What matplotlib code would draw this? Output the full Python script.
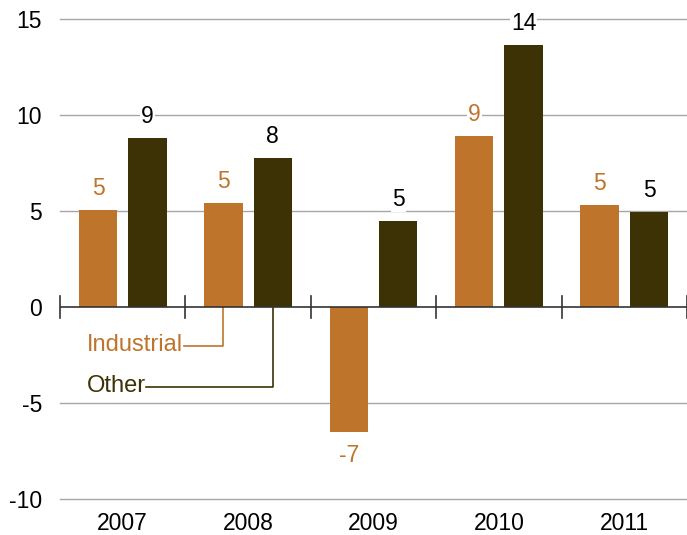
import matplotlib
matplotlib.use("Agg")
import matplotlib.pyplot as plt
import numpy as np

years = ["2007", "2008", "2009", "2010", "2011"]
industrial = [5.05, 5.4, -6.5, 8.9, 5.3]
other = [8.8, 7.75, 4.48, 13.65, 4.95]
industrial_labels = ["5", "5", "-7", "9", "5"]
other_labels = ["9", "8", "5", "14", "5"]
yticks = [-10, -5, 0, 5, 10, 15]

C_IND = "#BF742C"
C_OTH = "#3D3206"

plt.rcParams['font.family'] = ['Liberation Sans', 'DejaVu Sans']
fig = plt.figure(figsize=(6.87, 5.35), dpi=100)
ax = fig.add_axes([60/687, 36/535, 627/687, 480/535])
ax.set_xlim(0, 5)
ax.set_ylim(-10, 15)

x = np.arange(len(years)) + 0.5
off = 0.197
w = 0.305
ax.bar(x - off, industrial, w, color=C_IND, zorder=3)
ax.bar(x + off, other, w, color=C_OTH, zorder=3)

for yv in yticks:
    if yv != 0:
        ax.axhline(yv, color="#A6A6A6", lw=1.0, zorder=1, clip_on=False)
ax.axhline(0, color="#333333", lw=1.2, zorder=4)
for i in range(len(years) + 1):
    ax.plot([i, i], [-0.55, 0.55], color="#333333", lw=1.2, zorder=4, clip_on=False)

FS = 16.5
box = dict(boxstyle='square,pad=0.05', fc='white', ec='none')
for xi, v, lab in zip(x - off, industrial, industrial_labels):
    va = 'bottom' if v >= 0 else 'top'
    dy = 7.5 if v >= 0 else -9
    ax.annotate(lab, (xi, v), xytext=(0, dy), textcoords='offset points',
                ha='center', va=va, fontsize=FS, color=C_IND, bbox=box, zorder=5)
for xi, v, lab in zip(x + off, other, other_labels):
    ax.annotate(lab, (xi, v), xytext=(0, 7.5), textcoords='offset points',
                ha='center', va='bottom', fontsize=FS, color='black', bbox=box, zorder=5)

for s in ax.spines.values():
    s.set_visible(False)
ax.set_yticks(yticks)
ax.set_yticklabels([str(t) for t in yticks], fontsize=FS)
ax.tick_params(axis='y', length=0, pad=13)
ax.set_xticks(x)
ax.set_xticklabels(years, fontsize=FS)
ax.tick_params(axis='x', length=0, pad=9.5)

# legend callouts
lx_ind = x[1] - off
lx_oth = x[1] + off
ax.text(0.215, -2.0, "Industrial", color=C_IND, fontsize=17, ha='left', va='center')
ax.plot([0.985, lx_ind, lx_ind], [-2.05, -2.05, 0], color=C_IND, lw=1.2, zorder=2)
ax.text(0.215, -4.1, "Other", color=C_OTH, fontsize=17, ha='left', va='center')
ax.plot([0.685, lx_oth, lx_oth], [-4.15, -4.15, 0], color=C_OTH, lw=1.2, zorder=2)

fig.savefig("out.png", dpi=100)
